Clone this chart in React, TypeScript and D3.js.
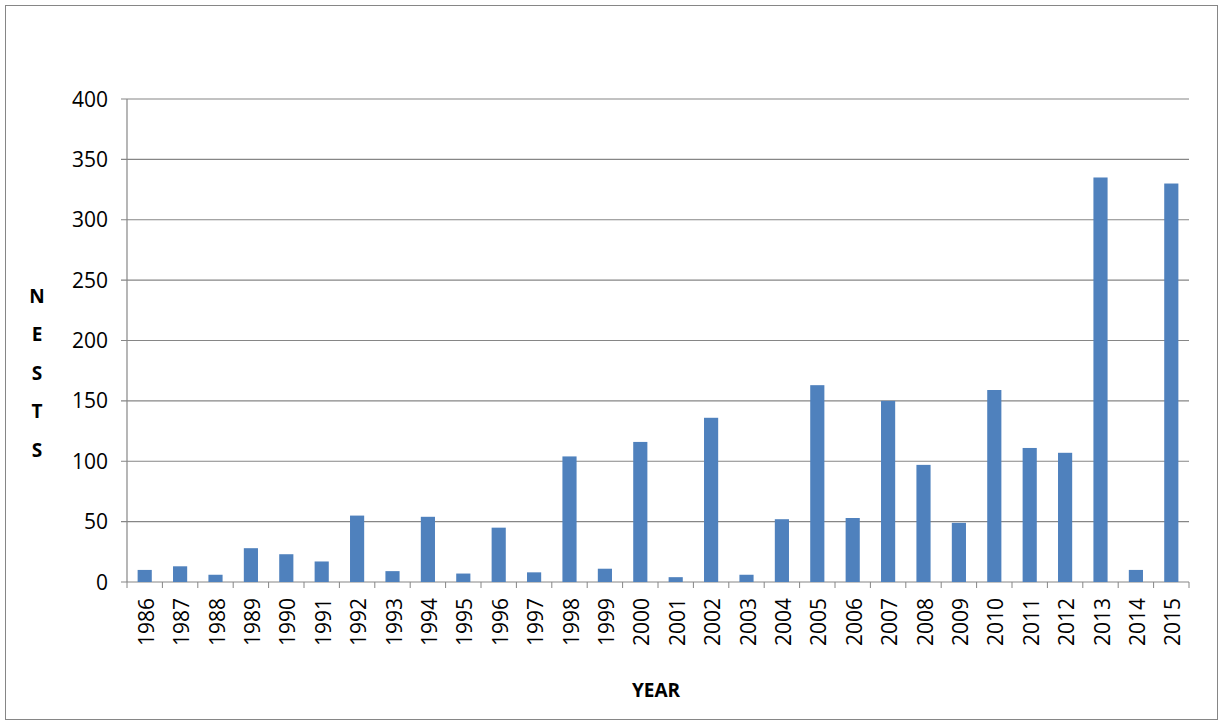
import * as d3 from "d3";

const years = ["1986","1987","1988","1989","1990","1991","1992","1993","1994","1995","1996","1997","1998","1999","2000","2001","2002","2003","2004","2005","2006","2007","2008","2009","2010","2011","2012","2013","2014","2015"];
const nests = [10,13,6,28,23,17,55,9,54,7,45,8,104,11,116,4,136,6,52,163,53,150,97,49,159,111,107,335,10,330];
const yTicks = [0,50,100,150,200,250,300,350,400];
const yTitle = ["N","E","S","T","S"];

export default function App() {
  const W = 1223, H = 726;
  const left = 127, right = 1189, top = 99, bottom = 582;
  const x = d3.scaleBand<string>().domain(years).range([left, right]).paddingInner(0.6).paddingOuter(0.3);
  const y = d3.scaleLinear().domain([0, 400]).range([bottom, top]);
  const step = (right - left) / years.length;
  const font = "'Open Sans', 'Liberation Sans', sans-serif";
  return (
    <svg width={W} height={H} style={{ position: "absolute", left: 0, top: 0 }} fontFamily={font}>
      <rect x={0} y={0} width={W} height={H} fill="#fff" />
      <rect x={5.5} y={5.5} width={1212} height={714} fill="none" stroke="#868686" />
      {yTicks.map((t) => (
        <g key={t}>
          <line x1={left - 6} x2={right} y1={y(t)} y2={y(t)} stroke="#868686" strokeWidth={1.2} />
          <text x={108} y={y(t)} dy="0.36em" textAnchor="end" fontSize={21}>{t}</text>
        </g>
      ))}
      <line x1={left} x2={left} y1={top} y2={bottom} stroke="#868686" strokeWidth={1.2} />
      {years.map((yr, i) => (
        <line key={"t" + yr} x1={left + i * step} x2={left + i * step} y1={bottom} y2={bottom + 6} stroke="#868686" />
      ))}
      <line x1={right} x2={right} y1={bottom} y2={bottom + 6} stroke="#868686" />
      {years.map((yr, i) => (
        <rect key={yr} x={x(yr)} y={y(nests[i])} width={x.bandwidth()} height={bottom - y(nests[i])} fill="#4f81bd" />
      ))}
      {years.map((yr) => {
        const cx = x(yr)! + x.bandwidth() / 2;
        return (
          <text key={"l" + yr} transform={`translate(${cx + 9},598) rotate(-90)`} textAnchor="end" fontSize={21}>{yr}</text>
        );
      })}
      {yTitle.map((c, i) => (
        <text key={i} x={37} y={296 + i * 38.5} dy="0.36em" textAnchor="middle" fontSize={19} fontWeight="bold">{c}</text>
      ))}
      <text x={656} y={690} dy="0.36em" textAnchor="middle" fontSize={19} fontWeight="bold">YEAR</text>
    </svg>
  );
}
